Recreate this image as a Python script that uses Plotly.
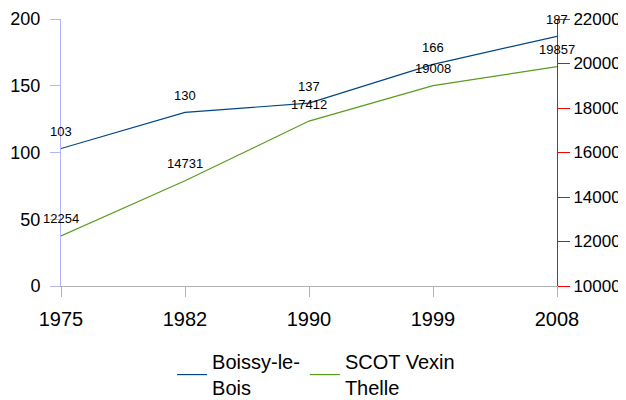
import plotly.graph_objects as go

years = ["1975", "1982", "1990", "1999", "2008"]
boissy = [103, 130, 137, 166, 187]
scot = [12254, 14731, 17412, 19008, 19857]
names = ["Boissy-le-<br>Bois", "SCOT Vexin<br>Thelle"]
left_ticks = [0, 50, 100, 150, 200]
right_ticks = [10000, 12000, 14000, 16000, 18000, 20000, 22000]

BLUE = "#004586"
GREEN = "#579d1c"
FONT = "Liberation Sans, Arial, sans-serif"

idx = list(range(len(years)))

fig = go.Figure()
fig.add_trace(go.Scatter(x=idx, y=boissy, mode="lines", name=names[0],
                         line=dict(color=BLUE, width=1.2), yaxis="y"))
fig.add_trace(go.Scatter(x=idx, y=scot, mode="lines", name=names[1],
                         line=dict(color=GREEN, width=1.2), yaxis="y2"))

for i, v in zip(idx, boissy):
    fig.add_annotation(x=i, y=v, xref="x", yref="y", text=str(v), showarrow=False,
                       yshift=17, font=dict(size=13, color="black", family=FONT))
for i, v in zip(idx, scot):
    fig.add_annotation(x=i, y=v, xref="x", yref="y2", text=str(v), showarrow=False,
                       yshift=17, font=dict(size=13, color="black", family=FONT))

fig.update_layout(
    width=618, height=392,
    margin=dict(l=53, r=69, t=11, b=114, autoexpand=False),
    paper_bgcolor="white", plot_bgcolor="white",
    font=dict(family=FONT, color="black"),
    showlegend=True,
    legend=dict(orientation="h", x=0.224, xanchor="left", y=-0.21, yanchor="top",
                font=dict(size=20, family=FONT), tracegroupgap=0),
    xaxis=dict(range=[0, 4], tickvals=idx, ticktext=years, showgrid=False, zeroline=False,
               showline=True, linecolor="#b3b3b3", linewidth=1,
               ticks="outside", ticklen=10, tickcolor="#b3b3b3", ticklabelstandoff=5,
               tickfont=dict(size=20, family=FONT), fixedrange=True, automargin=False),
    yaxis=dict(range=[0, 200], tickvals=left_ticks, showgrid=False, zeroline=False,
               showline=True, linecolor="#b3b3ff", linewidth=1,
               ticks="outside", ticklen=10, tickcolor="#b3b3ff", ticklabelstandoff=6,
               tickfont=dict(size=18, family=FONT), automargin=False),
    yaxis2=dict(range=[10000, 22000], tickvals=right_ticks,
                ticktext=[str(t) for t in right_ticks], overlaying="y", side="right",
                showgrid=False, zeroline=False, showline=True, linecolor="#ff0000",
                linewidth=1, ticks="outside", ticklen=12, tickcolor="#ff0000",
                ticklabelstandoff=0,
                tickfont=dict(size=17, family=FONT), automargin=False),
)

fig.write_html("out.html")
